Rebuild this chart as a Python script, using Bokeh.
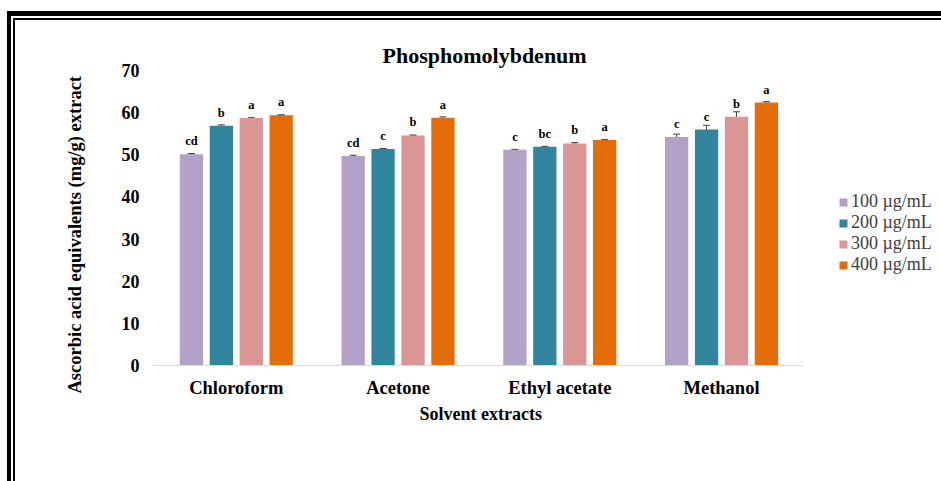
from bokeh.plotting import figure
from bokeh.models import (ColumnDataSource, Range1d, FixedTicker, Whisker, CustomJSTickFormatter,
                          LabelSet, Legend, LegendItem, TeeHead, Title)
from bokeh.transform import dodge
from bokeh.embed import file_html
from bokeh.resources import INLINE

# ---------------- data ----------------
solvents = ["Chloroform", "Acetone", "Ethyl acetate", "Methanol"]
concentrations = ["100 µg/mL", "200 µg/mL", "300 µg/mL", "400 µg/mL"]
conc_100 = [50.1, 49.7, 51.2, 54.2]
conc_200 = [56.9, 51.4, 51.9, 56.0]
conc_300 = [58.7, 54.6, 52.7, 59.0]
conc_400 = [59.4, 58.8, 53.5, 62.4]
err_100 = [0.2, 0.2, 0.1, 0.7]
err_200 = [0.2, 0.1, 0.1, 1.0]
err_300 = [0.1, 0.1, 0.2, 1.2]
err_400 = [0.1, 0.2, 0.1, 0.2]
letters_100 = ["cd", "cd", "c", "c"]
letters_200 = ["b", "c", "bc", "c"]
letters_300 = ["a", "b", "b", "b"]
letters_400 = ["a", "a", "a", "a"]
y_ticks = [0, 10, 20, 30, 40, 50, 60, 70]
colors = ["#B3A2C7", "#31859C", "#D99694", "#E46C0A"]
title_text = "Phosphomolybdenum"
x_label = "Solvent extracts"
y_label = "Ascorbic acid equivalents (mg/g) extract"

series_values = [conc_100, conc_200, conc_300, conc_400]
series_errors = [err_100, err_200, err_300, err_400]
series_letters = [letters_100, letters_200, letters_300, letters_400]

FONT = "Liberation Serif"
n_cat = len(solvents)
cat_pos = [i + 0.5 for i in range(n_cat)]   # category slot centres

p = figure(width=941, height=481, x_range=Range1d(-0.012, 4.86),
           y_range=Range1d(0, 70), output_backend="svg", toolbar_location=None,
           min_border_left=153, min_border_right=0, min_border_top=70, min_border_bottom=116,
           title=title_text)

p.outline_line_color = None
p.xgrid.grid_line_color = None
p.ygrid.grid_line_color = None
p.background_fill_color = "white"
p.border_fill_alpha = 0

# double frame along the top and left edges (continues past right/bottom)
p.styles = {
    "background-color": "white",
    "box-shadow": ("inset 7px 11px 0 0 white, inset 11px 16px 0 0 black, "
                   "inset 13px 18px 0 0 white, inset 15px 20px 0 0 black"),
}

p.title.align = "left"
p.title.offset = 229
p.title.text_font = FONT
p.title.text_font_style = "bold"
p.title.text_font_size = "22px"
p.title.text_color = "black"
p.title.standoff = 6

offsets = [-0.2775, -0.0925, 0.0925, 0.2775]
bar_w = 0.144
legend_items = []
for i in range(4):
    src = ColumnDataSource(dict(
        pos=cat_pos,
        val=series_values[i],
        upper=[v + e for v, e in zip(series_values[i], series_errors[i])],
        lower=[v - e for v, e in zip(series_values[i], series_errors[i])],
        letter=series_letters[i],
    ))
    xd = dodge("pos", offsets[i])
    r = p.vbar(x=xd, top="val", width=bar_w, source=src, fill_color=colors[i],
               line_color=None)
    legend_items.append(LegendItem(label=concentrations[i], renderers=[r]))
    w = Whisker(base=xd, upper="upper", lower="lower", source=src,
                line_color="#404040", line_width=1,
                upper_head=TeeHead(size=7, line_color="#404040", line_width=1),
                lower_head=TeeHead(size=7, line_color="#404040", line_width=1))
    p.add_layout(w)
    lab = LabelSet(x=xd, y="val", text="letter", source=src, y_offset=9,
                   text_align="center", text_baseline="alphabetic",
                   text_font=FONT, text_font_style="bold", text_font_size="12.5px",
                   text_color="black")
    p.add_layout(lab)

legend = Legend(items=legend_items, location=(685, 90))
legend.border_line_color = None
legend.background_fill_alpha = 0
legend.padding = 0
legend.margin = 0
legend.spacing = 0
legend.glyph_width = 10
legend.glyph_height = 10
legend.label_standoff = 3
legend.label_text_font = FONT
legend.label_text_font_size = "18px"
legend.label_text_color = "#404040"
legend.label_height = 21
p.add_layout(legend)

# axes
p.yaxis.ticker = FixedTicker(ticks=y_ticks)
p.yaxis.axis_line_color = None
p.yaxis.major_tick_line_color = None
p.yaxis.minor_tick_line_color = None
p.yaxis.major_tick_out = 0
p.yaxis.major_tick_in = 0
p.yaxis.major_label_standoff = 14
p.yaxis.major_label_text_font = FONT
p.yaxis.major_label_text_font_style = "bold"
p.yaxis.major_label_text_font_size = "18px"
p.yaxis.major_label_text_color = "black"

p.xaxis.ticker = FixedTicker(ticks=cat_pos)
p.xaxis.formatter = CustomJSTickFormatter(args=dict(labels=solvents),
                                          code="return labels[Math.round(tick - 0.5)];")
p.xaxis.bounds = (-0.012, n_cat)
p.xaxis.axis_line_color = "#D9D9D9"
p.xaxis.axis_line_width = 1
p.xaxis.major_tick_line_color = None
p.xaxis.minor_tick_line_color = None
p.xaxis.major_tick_out = 0
p.xaxis.major_tick_in = 0
p.xaxis.major_label_standoff = 12
p.xaxis.major_label_text_font = FONT
p.xaxis.major_label_text_font_style = "bold"
p.xaxis.major_label_text_font_size = "18.5px"
p.xaxis.major_label_text_color = "black"

# axis titles, placed like the original (not centred on the plot area)
xt = Title(text=x_label, align="left", offset=266, standoff=2,
           text_font=FONT, text_font_style="bold", text_font_size="18px",
           text_color="black")
p.add_layout(xt, "below")
yt = Title(text=y_label, align="left", offset=-28, standoff=68,
           text_font=FONT, text_font_style="bold", text_font_size="18.5px",
           text_color="black")
p.add_layout(yt, "left")

open("out.html", "w").write(file_html(p, INLINE))
